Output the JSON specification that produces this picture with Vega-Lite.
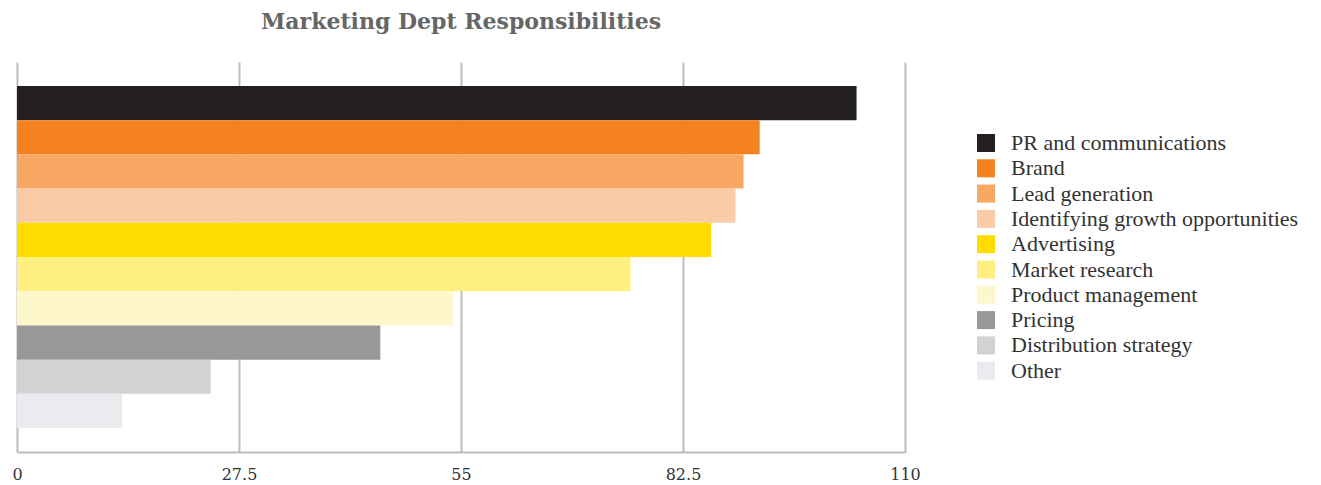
{
  "$schema": "https://vega.github.io/schema/vega-lite/v6.json",
  "autosize": "none",
  "width": 888,
  "height": 390,
  "padding": {"left": 17, "top": 62, "right": 416, "bottom": 33},
  "background": "white",
  "title": {
    "text": "Marketing Dept Responsibilities",
    "font": "DejaVu Serif",
    "fontSize": 22,
    "fontWeight": "bold",
    "color": "#666666",
    "anchor": "middle",
    "offset": 28
  },
  "data": {
    "values": [
      {"category": "PR and communications", "value": 104},
      {"category": "Brand", "value": 92},
      {"category": "Lead generation", "value": 90},
      {"category": "Identifying growth opportunities", "value": 89},
      {"category": "Advertising", "value": 86},
      {"category": "Market research", "value": 76},
      {"category": "Product management", "value": 54},
      {"category": "Pricing", "value": 45},
      {"category": "Distribution strategy", "value": 24},
      {"category": "Other", "value": 13}
    ]
  },
  "mark": {"type": "bar"},
  "encoding": {
    "y": {
      "field": "category",
      "type": "nominal",
      "sort": null,
      "axis": null,
      "scale": {"paddingInner": 0, "paddingOuter": 0.7}
    },
    "x": {
      "field": "value",
      "type": "quantitative",
      "scale": {"domain": [0, 110], "nice": false, "zero": true},
      "axis": {
        "title": null,
        "values": [0, 27.5, 55, 82.5, 110],
        "format": ".1~f",
        "grid": true,
        "gridColor": "#bcbdc0",
        "gridWidth": 2,
        "domain": true,
        "domainColor": "#bcbdc0",
        "domainWidth": 2,
        "ticks": false,
        "labelPadding": 14,
        "labelFont": "DejaVu Serif",
        "labelFontSize": 16,
        "labelColor": "#333333",
        "labelFlush": false
      }
    },
    "color": {
      "field": "category",
      "type": "nominal",
      "scale": {
        "domain": ["PR and communications", "Brand", "Lead generation", "Identifying growth opportunities", "Advertising", "Market research", "Product management", "Pricing", "Distribution strategy", "Other"],
        "range": ["#231f20", "#f58220", "#f8a862", "#f9cba6", "#ffdd00", "#ffee80", "#fff7cc", "#999799", "#d1d2d4", "#eaebef"]
      },
      "legend": {
        "title": null,
        "orient": "none",
        "legendX": 958,
        "legendY": 70,
        "symbolType": "square",
        "symbolSize": 324,
        "symbolStrokeWidth": 0,
        "symbolOpacity": 1,
        "labelFont": "Liberation Serif",
        "labelFontSize": 22,
        "labelColor": "#333333",
        "labelOffset": 14,
        "rowPadding": 3.3,
        "labelLimit": 400
      }
    }
  },
  "config": {
    "view": {"stroke": null}
  }
}
